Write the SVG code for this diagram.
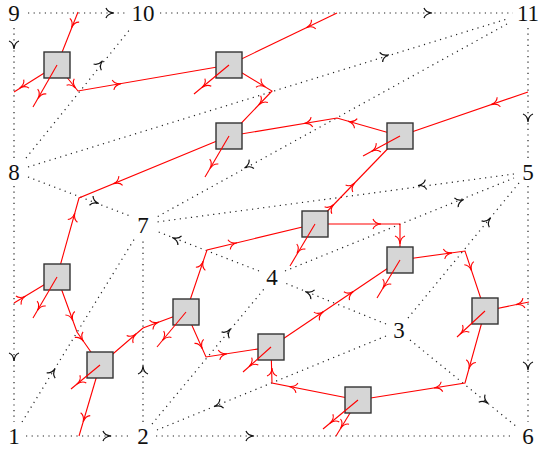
<svg xmlns="http://www.w3.org/2000/svg" xmlns:xlink="http://www.w3.org/1999/xlink" width="540" height="452" viewBox="0 0 540 452">
<style>
.d{stroke:#222;stroke-width:1.2;stroke-dasharray:1.2 4.4;fill:none}
.r{stroke:#ff0000;stroke-width:1.1;fill:none;stroke-linejoin:miter}
.ba{stroke:#111;stroke-width:1.2;fill:none}
.ra{stroke:#ff0000;stroke-width:1.1;fill:none}
.sq{fill:#d6d6d6;stroke:#333;stroke-width:1.4}
.lb{font-family:"Liberation Serif","DejaVu Serif",serif;font-size:23px;fill:#111;text-anchor:middle}
</style>
<defs>
<path id="ah" d="M-4,-5 C-3,-2.2 -0.6,-0.4 4,0 C-0.6,0.4 -3,2.2 -4,5"/>
</defs>
<rect width="540" height="452" fill="#fff"/>
<g id="connectors">
<g id="dotted">
<line class="d" x1="28" y1="13" x2="127" y2="13"/>
<line class="d" x1="160" y1="13" x2="513" y2="13"/>
<line class="d" x1="14" y1="28" x2="14" y2="158"/>
<line class="d" x1="14" y1="186" x2="14" y2="422"/>
<line class="d" x1="26" y1="436" x2="130" y2="436"/>
<line class="d" x1="156" y1="436" x2="514" y2="436"/>
<line class="d" x1="528" y1="28" x2="528" y2="158"/>
<line class="d" x1="528" y1="186" x2="528" y2="422"/>
<line class="d" x1="26" y1="158" x2="131" y2="28"/>
<line class="d" x1="28" y1="167" x2="507" y2="19"/>
<line class="d" x1="507" y1="24" x2="155" y2="218"/>
<line class="d" x1="28" y1="177" x2="130" y2="216"/>
<line class="d" x1="514" y1="174" x2="157" y2="222"/>
<line class="d" x1="285" y1="271" x2="514" y2="178"/>
<line class="d" x1="408" y1="318" x2="519" y2="183"/>
<line class="d" x1="259" y1="271" x2="156" y2="231"/>
<line class="d" x1="386" y1="324" x2="285" y2="283"/>
<line class="d" x1="410" y1="340" x2="517" y2="427"/>
<line class="d" x1="143" y1="422" x2="143" y2="240"/>
<line class="d" x1="22" y1="422" x2="135" y2="238"/>
<line class="d" x1="152" y1="424" x2="264" y2="289"/>
<line class="d" x1="386" y1="336" x2="157" y2="430"/>
</g>
<g id="dotted-arrows">
<use xlink:href="#ah" class="ba" transform="translate(110,13)"/>
<use xlink:href="#ah" class="ba" transform="translate(428,13)"/>
<use xlink:href="#ah" class="ba" transform="translate(14,45) rotate(90)"/>
<use xlink:href="#ah" class="ba" transform="translate(14,357) rotate(90)"/>
<use xlink:href="#ah" class="ba" transform="translate(107,436)"/>
<use xlink:href="#ah" class="ba" transform="translate(250,436)"/>
<use xlink:href="#ah" class="ba" transform="translate(528,118) rotate(90)"/>
<use xlink:href="#ah" class="ba" transform="translate(528,366) rotate(90)"/>
<use xlink:href="#ah" class="ba" transform="translate(100,64) rotate(-51.1)"/>
<use xlink:href="#ah" class="ba" transform="translate(385,56) rotate(-17.2)"/>
<use xlink:href="#ah" class="ba" transform="translate(248,166) rotate(151.1)"/>
<use xlink:href="#ah" class="ba" transform="translate(95,202) rotate(20.9)"/>
<use xlink:href="#ah" class="ba" transform="translate(422,185) rotate(172.3)"/>
<use xlink:href="#ah" class="ba" transform="translate(460,201) rotate(-22.1)"/>
<use xlink:href="#ah" class="ba" transform="translate(488,221) rotate(-50.6)"/>
<use xlink:href="#ah" class="ba" transform="translate(176,239) rotate(-158.8)"/>
<use xlink:href="#ah" class="ba" transform="translate(309,293) rotate(-157.9)"/>
<use xlink:href="#ah" class="ba" transform="translate(485,401) rotate(39.1)"/>
<use xlink:href="#ah" class="ba" transform="translate(143,370) rotate(-90)"/>
<use xlink:href="#ah" class="ba" transform="translate(53,372) rotate(-58.4)"/>
<use xlink:href="#ah" class="ba" transform="translate(228,332) rotate(-50.3)"/>
<use xlink:href="#ah" class="ba" transform="translate(218,405) rotate(157.7)"/>
</g>
<g id="red-curves">
<polyline class="r" points="78,12 57,65"/>
<polyline class="r" points="57,65 14,92"/>
<polyline class="r" points="57,65 78,91 229,65"/>
<polyline class="r" points="337,13 229,65"/>
<polyline class="r" points="229,65 272,91 229,136"/>
<polyline class="r" points="400,136 337,118 229,136"/>
<polyline class="r" points="528,92 400,136"/>
<polyline class="r" points="400,136 315,224"/>
<polyline class="r" points="229,136 79,198 57,277"/>
<polyline class="r" points="186,312 207,250 315,224"/>
<polyline class="r" points="315,224 400,224 400,260"/>
<polyline class="r" points="400,260 465,251 485,311"/>
<polyline class="r" points="271,347 400,260"/>
<polyline class="r" points="14,303 57,277"/>
<polyline class="r" points="57,277 77,332 100,365"/>
<polyline class="r" points="100,365 79,436"/>
<polyline class="r" points="100,365 143,328 186,312"/>
<polyline class="r" points="186,312 206,357 271,347"/>
<polyline class="r" points="358,400 272,383 271,347"/>
<polyline class="r" points="358,400 336,436"/>
<polyline class="r" points="485,311 465,383 358,400"/>
<polyline class="r" points="529,302 485,311"/>
</g>
</g>
<g id="nodes">
<g id="v9"><text class="lb" x="14" y="21">9</text></g>
<g id="v10"><text class="lb" x="143" y="21">10</text></g>
<g id="v11"><text class="lb" x="528" y="21">11</text></g>
<g id="v8"><text class="lb" x="14" y="180">8</text></g>
<g id="v7"><text class="lb" x="143" y="233">7</text></g>
<g id="v5"><text class="lb" x="528" y="180">5</text></g>
<g id="v4"><text class="lb" x="272" y="285">4</text></g>
<g id="v3"><text class="lb" x="399" y="338">3</text></g>
<g id="v1"><text class="lb" x="14" y="444">1</text></g>
<g id="v2"><text class="lb" x="143" y="444">2</text></g>
<g id="v6"><text class="lb" x="528" y="444">6</text></g>
<g id="s1"><rect class="sq" x="44" y="52" width="26" height="26"/></g>
<g id="s2"><rect class="sq" x="216" y="52" width="26" height="26"/></g>
<g id="s3"><rect class="sq" x="216" y="123" width="26" height="26"/></g>
<g id="s4"><rect class="sq" x="387" y="123" width="26" height="26"/></g>
<g id="s5"><rect class="sq" x="302" y="211" width="26" height="26"/></g>
<g id="s6"><rect class="sq" x="387" y="247" width="26" height="26"/></g>
<g id="s7"><rect class="sq" x="44" y="264" width="26" height="26"/></g>
<g id="s8"><rect class="sq" x="87" y="352" width="26" height="26"/></g>
<g id="s9"><rect class="sq" x="173" y="299" width="26" height="26"/></g>
<g id="s10"><rect class="sq" x="258" y="334" width="26" height="26"/></g>
<g id="s11"><rect class="sq" x="472" y="298" width="26" height="26"/></g>
<g id="s12"><rect class="sq" x="345" y="387" width="26" height="26"/></g>
</g>
<g id="tails">
<line class="r" x1="57" y1="65" x2="33" y2="107"/>
<line class="r" x1="229" y1="65" x2="194" y2="94"/>
<line class="r" x1="229" y1="136" x2="205" y2="177"/>
<line class="r" x1="400" y1="136" x2="363" y2="156"/>
<line class="r" x1="315" y1="224" x2="290" y2="266"/>
<line class="r" x1="400" y1="260" x2="377" y2="298"/>
<line class="r" x1="57" y1="277" x2="33" y2="318"/>
<line class="r" x1="100" y1="365" x2="71" y2="389"/>
<line class="r" x1="186" y1="312" x2="157" y2="347"/>
<line class="r" x1="271" y1="347" x2="243" y2="372"/>
<line class="r" x1="358" y1="400" x2="323" y2="429"/>
<line class="r" x1="485" y1="311" x2="457" y2="337"/>
</g>
<g id="red-arrows">
<use xlink:href="#ah" class="ra" transform="translate(73,24) rotate(111.8)"/>
<use xlink:href="#ah" class="ra" transform="translate(23,86) rotate(147.9)"/>
<use xlink:href="#ah" class="ra" transform="translate(40,95) rotate(119.7)"/>
<use xlink:href="#ah" class="ra" transform="translate(73,85) rotate(50)"/>
<use xlink:href="#ah" class="ra" transform="translate(117,84.3) rotate(-9.4)"/>
<use xlink:href="#ah" class="ra" transform="translate(310,26) rotate(154.3)"/>
<use xlink:href="#ah" class="ra" transform="translate(205,85) rotate(140.4)"/>
<use xlink:href="#ah" class="ra" transform="translate(262,85) rotate(31.2)"/>
<use xlink:href="#ah" class="ra" transform="translate(261.5,102) rotate(133.7)"/>
<use xlink:href="#ah" class="ra" transform="translate(352,122.3) rotate(-164.1)"/>
<use xlink:href="#ah" class="ra" transform="translate(308,122.8) rotate(170.5)"/>
<use xlink:href="#ah" class="ra" transform="translate(495,103.3) rotate(161)"/>
<use xlink:href="#ah" class="ra" transform="translate(375,149.5) rotate(151.6)"/>
<use xlink:href="#ah" class="ra" transform="translate(352,185.7) rotate(-46)"/>
<use xlink:href="#ah" class="ra" transform="translate(331,207.4) rotate(-46)"/>
<use xlink:href="#ah" class="ra" transform="translate(212,165) rotate(120.3)"/>
<use xlink:href="#ah" class="ra" transform="translate(117,182.3) rotate(157.5)"/>
<use xlink:href="#ah" class="ra" transform="translate(73.7,217) rotate(-74.4)"/>
<use xlink:href="#ah" class="ra" transform="translate(233,243.7) rotate(-13.5)"/>
<use xlink:href="#ah" class="ra" transform="translate(201.9,265) rotate(-71.3)"/>
<use xlink:href="#ah" class="ra" transform="translate(299,250) rotate(120.8)"/>
<use xlink:href="#ah" class="ra" transform="translate(377,224)"/>
<use xlink:href="#ah" class="ra" transform="translate(400,240) rotate(90)"/>
<use xlink:href="#ah" class="ra" transform="translate(448,253.4) rotate(-7.9)"/>
<use xlink:href="#ah" class="ra" transform="translate(470.3,267) rotate(71.6)"/>
<use xlink:href="#ah" class="ra" transform="translate(384.9,285) rotate(121.2)"/>
<use xlink:href="#ah" class="ra" transform="translate(320,314) rotate(-34)"/>
<use xlink:href="#ah" class="ra" transform="translate(350,293.7) rotate(-34)"/>
<use xlink:href="#ah" class="ra" transform="translate(22,298.2) rotate(-31.2)"/>
<use xlink:href="#ah" class="ra" transform="translate(39.4,307) rotate(120.3)"/>
<use xlink:href="#ah" class="ra" transform="translate(71.5,317) rotate(70)"/>
<use xlink:href="#ah" class="ra" transform="translate(81.2,338) rotate(55.1)"/>
<use xlink:href="#ah" class="ra" transform="translate(80,381.6) rotate(140.4)"/>
<use xlink:href="#ah" class="ra" transform="translate(84.3,418) rotate(106.5)"/>
<use xlink:href="#ah" class="ra" transform="translate(133,336.6) rotate(-40.7)"/>
<use xlink:href="#ah" class="ra" transform="translate(155,323.5) rotate(-20.4)"/>
<use xlink:href="#ah" class="ra" transform="translate(165,337.3) rotate(129.6)"/>
<use xlink:href="#ah" class="ra" transform="translate(200.7,345) rotate(66)"/>
<use xlink:href="#ah" class="ra" transform="translate(223,354.4) rotate(-8.7)"/>
<use xlink:href="#ah" class="ra" transform="translate(252,364) rotate(138.2)"/>
<use xlink:href="#ah" class="ra" transform="translate(272,372) rotate(-90)"/>
<use xlink:href="#ah" class="ra" transform="translate(293,387.2) rotate(-168.8)"/>
<use xlink:href="#ah" class="ra" transform="translate(333,420.7) rotate(140.4)"/>
<use xlink:href="#ah" class="ra" transform="translate(342.7,425) rotate(121.4)"/>
<use xlink:href="#ah" class="ra" transform="translate(438,387.3) rotate(171)"/>
<use xlink:href="#ah" class="ra" transform="translate(470,365) rotate(105.5)"/>
<use xlink:href="#ah" class="ra" transform="translate(520,303.8) rotate(168.4)"/>
<use xlink:href="#ah" class="ra" transform="translate(463,331.4) rotate(137.1)"/>
</g>
</svg>
